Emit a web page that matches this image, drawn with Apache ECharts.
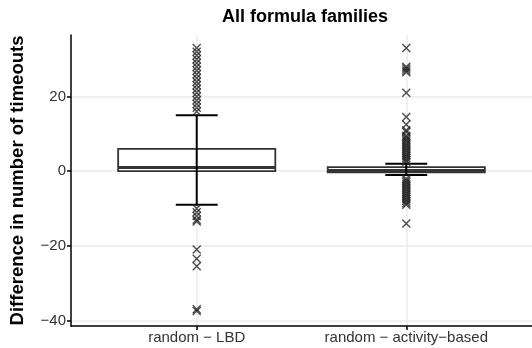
<!DOCTYPE html>
<html>
<head>
<meta charset="utf-8">
<script src="https://cdn.jsdelivr.net/npm/echarts@6/dist/echarts.min.js"></script>
<style>
  html, body { margin: 0; padding: 0; background: #fff; }
  #chart { width: 532px; height: 348px; }
</style>
</head>
<body>
<div id="chart"></div>
<script>
// categories and their x position (1, 2)
var categories = ['random − LBD', 'random − activity−based'];
var positions = [1, 2];

// box stats: [lower whisker, Q1, median, Q3, upper whisker]
var boxLBD = [-9, 0, 1, 6, 15];
var boxActivity = [-1, -0.3, 0.2, 1.1, 2];

// outliers
var outLBD = [16, 17, 18, 19, 20, 21, 22, 23, 24, 25, 26, 27, 28, 29, 30, 31, 32, 33,
  -10, -11, -12, -13, -13.5, -21, -23.5, -25.5, -37, -37.5];
var outActivity = [33, 28, 27.5, 27, 26.5, 21, 14.5, 12.5, 11, 10.5,
  9.5, 9, 8.5, 8, 7.5, 7, 6.5, 6, 5.5, 5, 4.5, 4, 3.5, 3, 2.5,
  -2, -2.5, -3, -3.5, -4, -4.5, -5, -5.5, -6, -6.5, -7, -7.5, -8, -8.5, -9, -14];

var yTicks = [-40, -20, 0, 20];

var boxData = [
  [positions[0]].concat(boxLBD),
  [positions[1]].concat(boxActivity)
];
var outData = [];
outLBD.forEach(function (v) { outData.push([positions[0], v]); });
outActivity.forEach(function (v) { outData.push([positions[1], v]); });

function fmtMinus(v) {
  return String(v).replace('-', '\u2212');
}

function renderBox(params, api) {
  var x = api.value(0);
  var pLo = api.coord([x, api.value(1)]);
  var pQ1 = api.coord([x, api.value(2)]);
  var pMed = api.coord([x, api.value(3)]);
  var pQ3 = api.coord([x, api.value(4)]);
  var pHi = api.coord([x, api.value(5)]);
  var halfBox = api.size([0.75, 0])[0] / 2;
  var halfCap = api.size([0.2, 0])[0] / 2;
  var cx = pQ1[0];
  return {
    type: 'group',
    children: [
      {
        type: 'rect',
        shape: { x: cx - halfBox, y: pQ3[1], width: halfBox * 2, height: pQ1[1] - pQ3[1] },
        style: { fill: '#fff', stroke: '#333', lineWidth: 1.8 }
      },
      {
        type: 'line',
        shape: { x1: cx - halfBox, y1: pMed[1], x2: cx + halfBox, y2: pMed[1] },
        style: { stroke: '#333', lineWidth: 3 }
      },
      {
        type: 'line',
        shape: { x1: cx, y1: pLo[1], x2: cx, y2: pHi[1] },
        style: { stroke: '#000', lineWidth: 2 }
      },
      {
        type: 'line',
        shape: { x1: cx - halfCap, y1: pHi[1], x2: cx + halfCap, y2: pHi[1] },
        style: { stroke: '#000', lineWidth: 2 }
      },
      {
        type: 'line',
        shape: { x1: cx - halfCap, y1: pLo[1], x2: cx + halfCap, y2: pLo[1] },
        style: { stroke: '#000', lineWidth: 2 }
      }
    ]
  };
}

var chart = echarts.init(document.getElementById('chart'));
var option = {
  animation: false,
  textStyle: { fontFamily: 'Liberation Sans' },
  title: {
    text: 'All formula families',
    left: 300,
    textAlign: 'center',
    top: 3,
    textStyle: { fontSize: 18, fontWeight: 'bold', color: '#000', fontFamily: 'Liberation Sans' }
  },
  grid: { left: 67, right: -3, top: 35, bottom: 22 },
  xAxis: {
    type: 'value',
    min: 0.4,
    max: 2.6,
    axisLine: { onZero: false, lineStyle: { color: '#000', width: 1.5 } },
    axisTick: { customValues: positions, length: 4, lineStyle: { color: '#000', width: 1.5 } },
    axisLabel: {
      customValues: positions,
      color: '#333',
      fontSize: 15,
      margin: 4,
      formatter: function (v) { return categories[Math.round(v) - 1]; }
    },
    splitLine: { show: true, lineStyle: { color: '#ebebeb', width: 1.5 } }
  },
  yAxis: {
    type: 'value',
    min: -41.5,
    max: 36.5,
    name: 'Difference in number of timeouts',
    nameLocation: 'middle',
    nameRotate: 90,
    nameGap: 44,
    nameTextStyle: { fontSize: 18.5, fontWeight: 'bold', color: '#000' },
    axisLine: { lineStyle: { color: '#000', width: 1.5 } },
    axisTick: { show: true, customValues: yTicks, length: 4, lineStyle: { color: '#000', width: 1.5 } },
    axisLabel: {
      customValues: yTicks,
      color: '#333',
      fontSize: 15,
      margin: 5,
      formatter: fmtMinus
    },
    splitLine: { show: true, lineStyle: { color: '#ebebeb', width: 1.5 } }
  },
  series: [
    {
      type: 'custom',
      renderItem: renderBox,
      data: boxData,
      encode: { x: 0, y: [1, 2, 3, 4, 5] },
      z: 2
    },
    {
      type: 'scatter',
      data: outData,
      symbol: 'path://M0,0L10,10M10,0L0,10',
      symbolSize: 8,
      itemStyle: { color: 'rgba(0,0,0,0)', borderColor: '#222', borderWidth: 1.4 },
      z: 3
    }
  ]
};
chart.setOption(option);
</script>
</body>
</html>
